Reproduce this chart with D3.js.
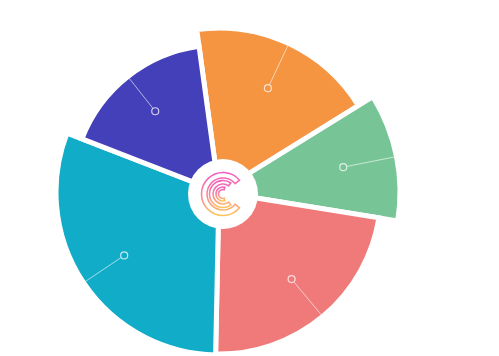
<!DOCTYPE html>
<html>
<head>
<meta charset="utf-8">
<script src="https://cdn.jsdelivr.net/npm/d3@7"></script>
<style>
  html, body { margin: 0; padding: 0; background: #ffffff; }
  svg { display: block; }
</style>
</head>
<body>
<svg id="chart" width="499" height="356"></svg>
<script>
// ---- data ----
const categories   = ["Orange", "Green", "Red", "Teal", "Purple"];
const angleValues  = [66, 41, 82, 110, 61];      // share of the circle
const radiusValues = [164, 181, 162, 163, 147];  // radius value of each slice
const colors       = ["#F59441", "#77C597", "#F0797A", "#11ACC8", "#4440B9"];

const data = categories.map((c, i) => ({ name: c, value: angleValues[i], radius: radiusValues[i], color: colors[i] }));

// ---- layout ----
const cx = 219, cy = 192;
const holeR = 35;
const holeDx = 4, holeDy = 2;
const startDeg = -7.8;

const svg = d3.select("#chart");
const g = svg.append("g").attr("transform", `translate(${cx},${cy})`);

const rScale = d3.scaleLinear().domain([0, 200]).range([0, 200]);

const pie = d3.pie()
  .sort(null)
  .value(d => d.value)
  .startAngle(startDeg * Math.PI / 180)
  .endAngle(startDeg * Math.PI / 180 + 2 * Math.PI);

const arcs = pie(data);

const arc = d3.arc()
  .innerRadius(0)
  .outerRadius(d => rScale(d.data.radius));

g.selectAll("path.slice")
  .data(arcs)
  .join("path")
  .attr("class", "slice")
  .attr("d", arc)
  .attr("fill", d => d.data.color)
  .attr("stroke", "#ffffff")
  .attr("stroke-width", 5)
  .attr("stroke-linejoin", "miter");

// label ticks (labels themselves are empty)
const tickFrac = 0.7;
const ticks = g.selectAll("g.tick").data(arcs).join("g").attr("class", "tick");
function polar(a, r) { return [Math.sin(a) * r, -Math.cos(a) * r]; }
const mid = d => (d.startAngle + d.endAngle) / 2;
ticks.append("line")
  .attr("x1", d => polar(mid(d), rScale(d.data.radius) * tickFrac + 4)[0])
  .attr("y1", d => polar(mid(d), rScale(d.data.radius) * tickFrac + 4)[1])
  .attr("x2", d => polar(mid(d), rScale(d.data.radius) - 2)[0])
  .attr("y2", d => polar(mid(d), rScale(d.data.radius) - 2)[1])
  .attr("stroke", "#ffffff")
  .attr("stroke-opacity", 0.6)
  .attr("stroke-width", 1);
ticks.append("circle")
  .attr("cx", d => polar(mid(d), rScale(d.data.radius) * tickFrac)[0])
  .attr("cy", d => polar(mid(d), rScale(d.data.radius) * tickFrac)[1])
  .attr("r", 3.5)
  .attr("fill", "none")
  .attr("stroke", "#ffffff")
  .attr("stroke-opacity", 0.75)
  .attr("stroke-width", 1.2);

// centre hole
const hole = g.append("g").attr("transform", `translate(${holeDx},${holeDy})`);
hole.append("circle").attr("r", holeR).attr("fill", "#ffffff");

// logo
const defs = svg.append("defs");
const grad = defs.append("linearGradient").attr("id", "logoGrad")
  .attr("x1", "0").attr("y1", "0").attr("x2", "0").attr("y2", "1");
grad.append("stop").attr("offset", "0%").attr("stop-color", "#F25CC0");
grad.append("stop").attr("offset", "55%").attr("stop-color", "#F88A9A");
grad.append("stop").attr("offset", "100%").attr("stop-color", "#FEC560");

const deg = Math.PI / 180;
const logoRings = [
  { r0: 16, r1: 21.5, a0: 130, a1: 410 },
  { r0: 10, r1: 13.5, a0: 145, a1: 395 },
  { r0: 4.5, r1: 7, a0: 165, a1: 375 }
];
const logoArc = d3.arc();
hole.selectAll("path.logo")
  .data(logoRings)
  .join("path")
  .attr("class", "logo")
  .attr("d", d => logoArc({ innerRadius: d.r0, outerRadius: d.r1, startAngle: d.a0 * deg, endAngle: d.a1 * deg }))
  .attr("fill", "none")
  .attr("stroke", "url(#logoGrad)")
  .attr("stroke-width", 1.6);
</script>
</body>
</html>
